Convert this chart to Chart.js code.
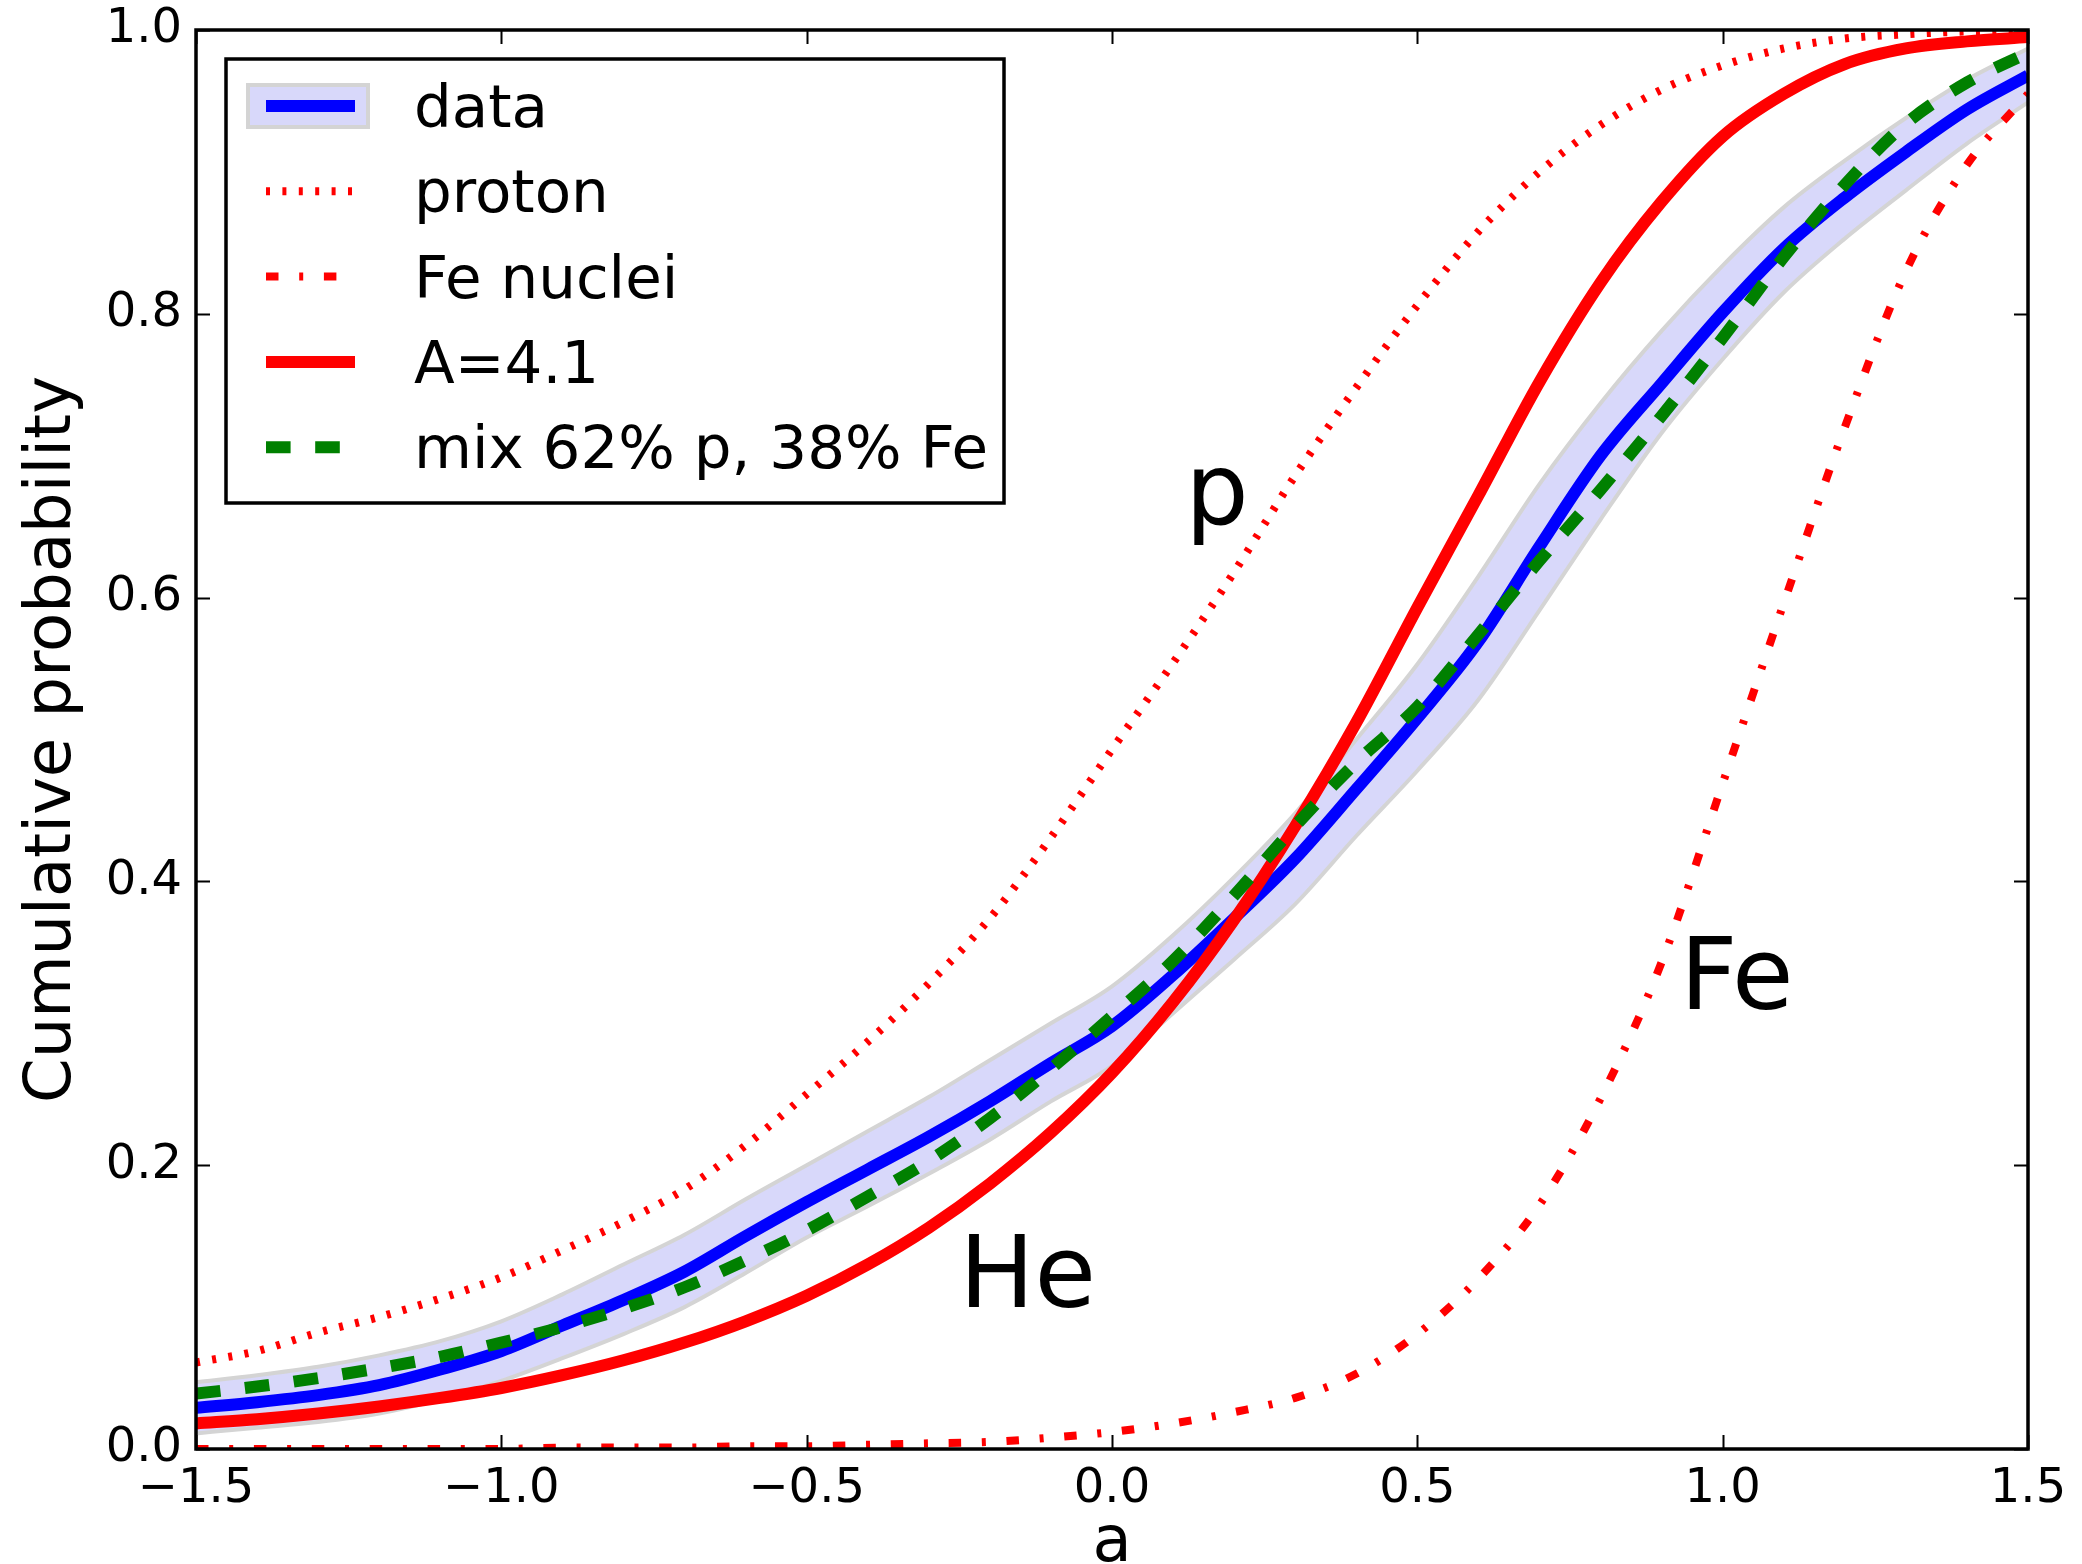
<!DOCTYPE html>
<html>
<head>
<meta charset="utf-8">
<script src="https://cdn.jsdelivr.net/npm/chart.js@4/dist/chart.umd.min.js"></script>
<style>
  html, body { margin: 0; padding: 0; background: #ffffff; }
  #wrap { width: 2082px; height: 1564px; }
</style>
</head>
<body>
<div id="wrap"><canvas id="cdf" width="2082" height="1564"></canvas></div>
<script>
// Shower-parameter grid (a) and cumulative probabilities of each curve
const aValues = [-1.5, -1.4, -1.3, -1.2, -1.1, -1.0, -0.9, -0.8, -0.7, -0.6, -0.5,
                 -0.4, -0.3, -0.2, -0.1, 0.0, 0.1, 0.2, 0.3, 0.4, 0.5,
                 0.6, 0.7, 0.8, 0.9, 1.0, 1.1, 1.2, 1.3, 1.4, 1.5];

const dataCdf = [0.029, 0.033, 0.038, 0.045, 0.056, 0.069, 0.087, 0.105, 0.125, 0.150, 0.174,
                 0.197, 0.220, 0.245, 0.272, 0.298, 0.334, 0.374, 0.416, 0.465, 0.515,
                 0.569, 0.636, 0.700, 0.751, 0.801, 0.846, 0.882, 0.914, 0.944, 0.968];

const dataUpper = [0.047, 0.052, 0.058, 0.066, 0.076, 0.090, 0.109, 0.130, 0.151, 0.176, 0.200,
                   0.224, 0.248, 0.274, 0.300, 0.326, 0.362, 0.403, 0.448, 0.500, 0.553,
                   0.615, 0.680, 0.737, 0.788, 0.834, 0.875, 0.908, 0.938, 0.965, 0.987];

const dataLower = [0.011, 0.015, 0.019, 0.025, 0.035, 0.048, 0.064, 0.081, 0.100, 0.124, 0.149,
                   0.171, 0.194, 0.218, 0.245, 0.270, 0.307, 0.345, 0.384, 0.432, 0.478,
                   0.528, 0.591, 0.655, 0.716, 0.768, 0.815, 0.853, 0.887, 0.920, 0.949];

const protonCdf = [0.061, 0.069, 0.082, 0.093, 0.106, 0.121, 0.140, 0.160, 0.183, 0.214, 0.250,
                   0.287, 0.328, 0.374, 0.431, 0.493, 0.554, 0.618, 0.686, 0.748, 0.806,
                   0.858, 0.900, 0.933, 0.958, 0.975, 0.987, 0.994, 0.997, 0.999, 1.000];

const ironCdf = [0.000, 0.000, 0.000, 0.000, 0.000, 0.000, 0.001, 0.001, 0.001, 0.002, 0.002,
                 0.003, 0.004, 0.005, 0.008, 0.012, 0.018, 0.026, 0.036, 0.053, 0.081,
                 0.120, 0.172, 0.247, 0.343, 0.469, 0.596, 0.720, 0.830, 0.905, 0.955];

const massA41Cdf = [0.018, 0.021, 0.025, 0.030, 0.036, 0.043, 0.052, 0.0625, 0.075, 0.090, 0.108,
                    0.130, 0.156, 0.187, 0.223, 0.265, 0.315, 0.373, 0.439, 0.512, 0.593,
                    0.672, 0.752, 0.822, 0.879, 0.925, 0.955, 0.976, 0.987, 0.992, 0.995];

const mixCdf = [0.039, 0.044, 0.050, 0.057, 0.065, 0.075, 0.086, 0.099, 0.114, 0.133, 0.154,
                0.178, 0.203, 0.233, 0.268, 0.305, 0.344, 0.390, 0.439, 0.484, 0.523,
                0.574, 0.626, 0.676, 0.728, 0.783, 0.840, 0.891, 0.934, 0.963, 0.984];

// Axis ticks
const xTickValues = [-1.5, -1.0, -0.5, 0.0, 0.5, 1.0, 1.5];
const xTickLabels = ['\u22121.5', '\u22121.0', '\u22120.5', '0.0', '0.5', '1.0', '1.5'];
const yTickValues = [0.0, 0.2, 0.4, 0.6, 0.8, 1.0];
const yTickLabels = ['0.0', '0.2', '0.4', '0.6', '0.8', '1.0'];

// Legend entries and curve tags
const legendLabels = ['data', 'proton', 'Fe nuclei', 'A=4.1', 'mix 62% p, 38% Fe'];
const curveTags = ['p', 'He', 'Fe'];
const curveTagAnchors = [[0.12, 0.652], [-0.25, 0.10], [0.93, 0.31]];

const FONT = "'DejaVu Sans', 'Liberation Sans', sans-serif";
const RED = '#ff0000', BLUE = '#0000ff', GREEN = '#008000';
const BAND_FILL = 'rgb(216,216,250)', BAND_EDGE = 'rgb(212,212,212)';
const DASH = {
  proton: [4, 12.4],
  iron: [12.5, 20.7, 4, 20.7],
  mix: [24.6, 24.6]
};

const toPoints = ys => aValues.map((a, i) => ({ x: a, y: ys[i] }));

// Frame, inward ticks on all four sides, legend and curve tags
const decorations = {
  id: 'decorations',
  afterDraw(chart) {
    const { ctx, chartArea: ca, scales: { x, y } } = chart;
    ctx.save();

    // inward ticks
    ctx.strokeStyle = '#000';
    ctx.lineWidth = 2;
    const tl = 14;
    ctx.beginPath();
    xTickValues.forEach(v => {
      const px = Math.round(x.getPixelForValue(v)) + 0.5;
      ctx.moveTo(px, ca.bottom); ctx.lineTo(px, ca.bottom - tl);
      ctx.moveTo(px, ca.top); ctx.lineTo(px, ca.top + tl);
    });
    yTickValues.forEach(v => {
      const py = Math.round(y.getPixelForValue(v)) + 0.5;
      ctx.moveTo(ca.left, py); ctx.lineTo(ca.left + tl, py);
      ctx.moveTo(ca.right, py); ctx.lineTo(ca.right - tl, py);
    });
    ctx.stroke();

    // axes frame
    ctx.lineWidth = 3.5;
    ctx.strokeRect(ca.left, ca.top, ca.right - ca.left, ca.bottom - ca.top);

    // curve tags
    ctx.fillStyle = '#000';
    ctx.font = `100px ${FONT}`;
    ctx.textAlign = 'left';
    ctx.textBaseline = 'alphabetic';
    curveTags.forEach((t, i) => {
      const [a, p] = curveTagAnchors[i];
      ctx.fillText(t, x.getPixelForValue(a), y.getPixelForValue(p));
    });

    // legend box
    const lx = ca.left + 30, ly = ca.top + 29, lw = 778, lh = 444;
    ctx.fillStyle = '#fff';
    ctx.fillRect(lx, ly, lw, lh);
    ctx.strokeStyle = '#000';
    ctx.lineWidth = 3.5;
    ctx.strokeRect(lx, ly, lw, lh);

    const rowY = i => ly + 47 + i * 85.3;
    const h0 = lx + 40, h1 = lx + 129;

    // data patch: shaded band with line
    ctx.fillStyle = BAND_FILL;
    ctx.strokeStyle = BAND_EDGE;
    ctx.lineWidth = 4;
    ctx.fillRect(lx + 22, rowY(0) - 21, 120, 42);
    ctx.strokeRect(lx + 22, rowY(0) - 21, 120, 42);

    const handle = (i, color, width, dash) => {
      ctx.beginPath();
      ctx.setLineDash(dash);
      ctx.lineCap = 'butt';
      ctx.strokeStyle = color;
      ctx.lineWidth = width;
      ctx.moveTo(h0, rowY(i));
      ctx.lineTo(h1, rowY(i));
      ctx.stroke();
    };
    handle(0, BLUE, 12, []);
    handle(1, RED, 8, DASH.proton);
    handle(2, RED, 8, DASH.iron);
    handle(3, RED, 12, []);
    handle(4, GREEN, 12, DASH.mix);
    ctx.setLineDash([]);

    ctx.fillStyle = '#000';
    ctx.font = `59.5px ${FONT}`;
    ctx.textBaseline = 'alphabetic';
    legendLabels.forEach((t, i) => ctx.fillText(t, lx + 188, rowY(i) + 21));

    ctx.restore();
  }
};

const lineSet = (label, ys, color, width, dash, extra) => Object.assign({
  label, data: toPoints(ys), borderColor: color, borderWidth: width,
  borderDash: dash, pointRadius: 0, fill: false, clip: 0,
  cubicInterpolationMode: 'monotone'
}, extra || {});

new Chart(document.getElementById('cdf'), {
  type: 'line',
  data: {
    datasets: [
      lineSet('mix 62% p, 38% Fe', mixCdf, GREEN, 12, DASH.mix, { order: 0 }),
      lineSet('A=4.1', massA41Cdf, RED, 12, [], { order: 1 }),
      lineSet('Fe nuclei', ironCdf, RED, 8, DASH.iron, { order: 2 }),
      lineSet('proton', protonCdf, RED, 8, DASH.proton, { order: 3 }),
      lineSet('data', dataCdf, BLUE, 12, [], { order: 4 }),
      lineSet('data upper', dataUpper, BAND_EDGE, 4, [], { order: 5, fill: '+1', backgroundColor: BAND_FILL }),
      lineSet('data lower', dataLower, BAND_EDGE, 4, [], { order: 6 })
    ]
  },
  options: {
    responsive: false,
    animation: false,
    devicePixelRatio: 1,
    layout: { padding: { left: 0, right: 54, top: 30, bottom: 0 } },
    plugins: {
      legend: { display: false },
      tooltip: { enabled: false },
      filler: { drawTime: 'beforeDatasetsDraw' }
    },
    scales: {
      x: {
        type: 'linear', min: -1.5, max: 1.5,
        grid: { display: false, drawTicks: false },
        border: { display: false },
        afterBuildTicks: s => { s.ticks = xTickValues.map(v => ({ value: v })); },
        afterFit: s => { s.height = 115; s.paddingLeft = 0; s.paddingRight = 0; },
        ticks: {
          padding: 12, autoSkip: false, maxRotation: 0, color: '#000',
          font: { family: FONT, size: 48 },
          callback: (v, i) => xTickLabels[i]
        },
        title: {
          display: true, text: 'a', color: '#000', padding: 0,
          font: { family: FONT, size: 64, lineHeight: 0.6 }
        }
      },
      y: {
        type: 'linear', min: 0, max: 1,
        grid: { display: false, drawTicks: false },
        border: { display: false },
        afterBuildTicks: s => { s.ticks = yTickValues.map(v => ({ value: v })); },
        afterFit: s => { s.width = 196; s.paddingTop = 0; s.paddingBottom = 0; },
        ticks: {
          padding: 14, autoSkip: false, color: '#000',
          font: { family: FONT, size: 48 },
          callback: (v, i) => yTickLabels[i]
        },
        title: {
          display: true, text: 'Cumulative probability', color: '#000',
          padding: { top: 21, bottom: 0 },
          font: { family: FONT, size: 64, lineHeight: 1 }
        }
      }
    }
  },
  plugins: [decorations]
});
</script>
</body>
</html>
